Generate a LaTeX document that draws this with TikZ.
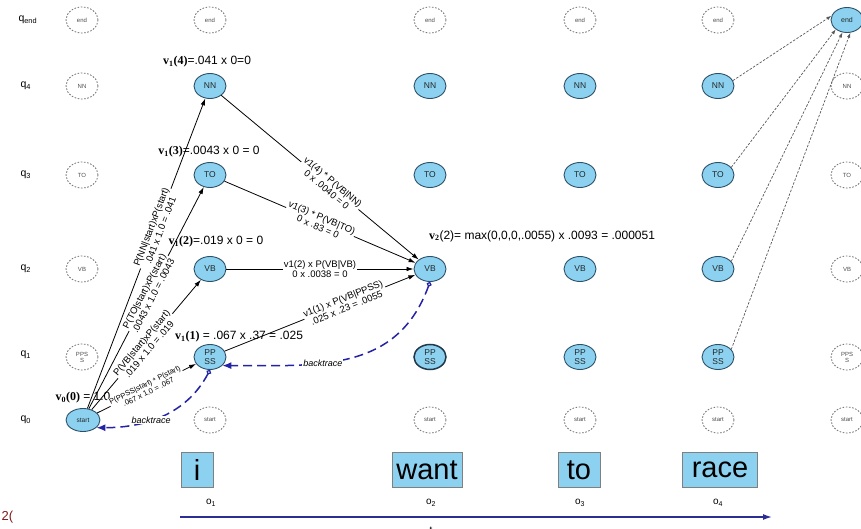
\documentclass[tikz,border=0pt]{standalone}
\usepackage{fontspec}
\setmainfont{Liberation Sans}
\newfontfamily\serifbf{Liberation Serif}
\usetikzlibrary{shapes.geometric,arrows.meta}

\definecolor{etatbleu}{RGB}{140,210,240}
\definecolor{bord}{RGB}{45,80,105}
\definecolor{retour}{RGB}{35,35,165}
\definecolor{axe}{RGB}{45,45,150}
\definecolor{rouge}{RGB}{130,25,25}

\newcommand{\vlab}[2]{{\serifbf\bfseries v\textsubscript{#1}(#2)}}

\tikzset{
  etat/.style={ellipse, draw=bord, line width=0.9pt, fill=etatbleu, minimum width=32pt,
    minimum height=25pt, inner sep=0pt, align=center, text=black!85,
    font=\fontsize{8.5}{8.5}\selectfont},
  vide/.style={ellipse, draw=gray!85!black, line width=0.8pt, dash pattern=on 1.6pt off 1.6pt,
    minimum width=32pt, minimum height=26pt, inner sep=0pt, align=center, text=gray!60!black,
    font=\fontsize{6}{6}\selectfont},
  mot/.style={draw=gray, fill=etatbleu, minimum height=35pt, inner sep=0pt,
    font=\fontsize{29}{29}\selectfont},
  titre/.style={inner sep=1pt, font=\fontsize{12}{12}\selectfont},
  fleche/.style={-{Latex[length=7pt,width=4.5pt]}, line width=0.8pt},
  etiq/.style={sloped, fill=white, inner sep=1pt, align=center, font=\fontsize{9.5}{10}\selectfont},
  arriere/.style={{Circle[open,length=5pt,width=5pt,line width=1.2pt]}-{Latex[length=9pt,width=7pt]},
    draw=retour, line width=1.5pt, dash pattern=on 9pt off 5pt},
  pointille/.style={-{Latex[length=5pt,width=3.5pt]}, draw=gray!70!black, line width=0.7pt,
    dash pattern=on 2.5pt off 1.5pt}
}

\begin{document}
\begin{tikzpicture}[x=1pt,y=-1pt]
    \useasboundingbox (0,0) rectangle (861,529);
    % noms des lignes
    \node[anchor=west, font=\fontsize{10.5}{10.5}\selectfont] (qe) at (15,20) {q\textsubscript{end}};
    \node[anchor=west, font=\fontsize{10.5}{10.5}\selectfont] (q4) at (17,86) {q\textsubscript{4}};
    \node[anchor=west, font=\fontsize{10.5}{10.5}\selectfont] (q3) at (17,175) {q\textsubscript{3}};
    \node[anchor=west, font=\fontsize{10.5}{10.5}\selectfont] (q2) at (17,269) {q\textsubscript{2}};
    \node[anchor=west, font=\fontsize{10.5}{10.5}\selectfont] (q1) at (17,355) {q\textsubscript{1}};
    \node[anchor=west, font=\fontsize{10.5}{10.5}\selectfont] (q0) at (17,420) {q\textsubscript{0}};
    % définition des états
    \node[vide] (e0) at (82,20) {end};
    \node[vide] (n0) at (82,86) {NN};
    \node[vide] (t0) at (82,175) {TO};
    \node[vide] (v0) at (82,269) {VB};
    \node[vide] (p0) at (82,357) {PPS\\S};
    \node[etat, minimum width=34pt, minimum height=23pt, font=\fontsize{6.5}{6.5}\selectfont] (s0) at (83,420) {start};
    \node[vide] (e1) at (210,20) {end};
    \node[etat] (n1) at (210,86) {NN};
    \node[etat] (t1) at (210,175) {TO};
    \node[etat] (v1) at (210,269) {VB};
    \node[etat] (p1) at (210,357) {PP\\SS};
    \node[vide] (s1) at (210,420) {start};
    \node[vide] (e2) at (430,20) {end};
    \node[etat] (n2) at (430,86) {NN};
    \node[etat] (t2) at (430,175) {TO};
    \node[etat] (v2) at (430,269) {VB};
    \node[etat, line width=1.5pt, draw=bord!70!black] (p2) at (430,357) {PP\\SS};
    \node[vide] (s2) at (430,420) {start};
    \node[vide] (e3) at (580,20) {end};
    \node[etat] (n3) at (580,86) {NN};
    \node[etat] (t3) at (580,175) {TO};
    \node[etat] (v3) at (580,269) {VB};
    \node[etat] (p3) at (580,357) {PP\\SS};
    \node[vide] (s3) at (580,420) {start};
    \node[vide] (e4) at (718,20) {end};
    \node[etat] (n4) at (718,86) {NN};
    \node[etat] (t4) at (718,175) {TO};
    \node[etat] (v4) at (718,269) {VB};
    \node[etat] (p4) at (718,357) {PP\\SS};
    \node[vide] (s4) at (718,420) {start};
    \node[etat, font=\fontsize{7}{7}\selectfont] (e5) at (847,20) {end};
    \node[vide] (n5) at (847,86) {NN};
    \node[vide] (t5) at (847,175) {TO};
    \node[vide] (v5) at (847,269) {VB};
    \node[vide] (p5) at (847,357) {PPS\\S};
    \node[vide] (s5) at (847,420) {start};
    % valeurs de viterbi
    \node[titre] (l14) at (207,62) {\vlab{1}{4}=.041 x 0=0};
    \node[titre] (l13) at (209,152) {\vlab{1}{3}=.0043 x 0 = 0};
    \node[titre] (l12) at (216,242) {\vlab{1}{2}=.019 x 0 = 0};
    \node[titre] (l11) at (239,337) {\vlab{1}{1} = .067 x .37 = .025};
    \node[titre] (l00) at (83,398) {\vlab{0}{0} = 1.0};
    \node[titre] (l22) at (542,236) {{\serifbf\bfseries v\textsubscript{2}}(2)= max(0,0,0,.0055) x .0093 = .000051};
    % transitions
    \draw[fleche] (s0) -- node[etiq, pos=0.58] {P(NN|start)xP(start)\\.041 x 1.0 = .041} (n1);
    \draw[fleche] (s0) -- node[etiq, pos=0.52] {P(TO|start)xP(start)\\.0043 x 1.0 = .0043} (t1);
    \draw[fleche] (s0) -- node[etiq, pos=0.49] {P(VB|start)xP(start)\\.019 x 1.0 = .019} (v1);
    \draw[fleche] (s0) -- node[etiq, pos=0.5, font=\fontsize{7.5}{8}\selectfont] {P(PPSS|start) * P(start)\\.067 x 1.0 = .067} (p1);
    \draw[fleche] (n1) -- node[etiq, pos=0.55] {v1(4) * P(VB|NN)\\0 x .0040 = 0} (v2);
    \draw[fleche] (t1) -- node[etiq, pos=0.5] {v1(3) * P(VB|TO)\\0 x .83 = 0} (v2);
    \draw[fleche] (v1) -- node[etiq, pos=0.5] {v1(2) x P(VB|VB)\\0 x .0038 = 0} (v2);
    \draw[fleche] (p1) -- node[etiq, pos=0.63] {v1(1) x P(VB|PPSS)\\.025 x .23 = .0055} (v2);
    % vers l'état final
    \draw[pointille] (n4.20) -- (e5.165);
    \draw[pointille] (t4.30) -- (e5.220);
    \draw[pointille] (v4.30) -- (e5.250);
    \draw[pointille] (p4.30) -- (e5.285);
    % backtrace
    \draw[arriere] (v2.south) to[out=-110, in=0, looseness=1.1]
      node[pos=0.62, fill=white, inner sep=1pt, font=\fontsize{9}{9}\selectfont\itshape] (b2) {backtrace} (p1.-35);
    \draw[arriere] (p1.south) to[out=-118, in=0]
      node[pos=0.6, fill=white, inner sep=1pt, font=\fontsize{9}{9}\selectfont\itshape] (b1) {backtrace} (s0.-30);
    % observations
    \node[mot, minimum width=32pt] (w1) at (197,470) {i};
    \node[mot, minimum width=70pt] (w2) at (427,470) {want};
    \node[mot, minimum width=42pt] (w3) at (579,470) {to};
    \node[mot, minimum width=75pt] (w4) at (720,470) {race};
    \node[font=\fontsize{10}{10}\selectfont] (o1) at (211,503) {o\textsubscript{1}};
    \node[font=\fontsize{10}{10}\selectfont] (o2) at (431,503) {o\textsubscript{2}};
    \node[font=\fontsize{10}{10}\selectfont] (o3) at (580,503) {o\textsubscript{3}};
    \node[font=\fontsize{10}{10}\selectfont] (o4) at (718,503) {o\textsubscript{4}};
    \coordinate (a0) at (180,517);
    \coordinate (a1) at (772,517);
    \draw[-{Latex[length=9pt,width=6pt]}, axe, line width=1.4pt] (a0) -- (a1);
    \node[font=\fontsize{10}{10}\selectfont] (tt) at (431,530) {t};
    \node[anchor=west, text=rouge, font=\fontsize{13}{13}\selectfont] (r) at (-2,517) {2(};
\end{tikzpicture}
\end{document}
